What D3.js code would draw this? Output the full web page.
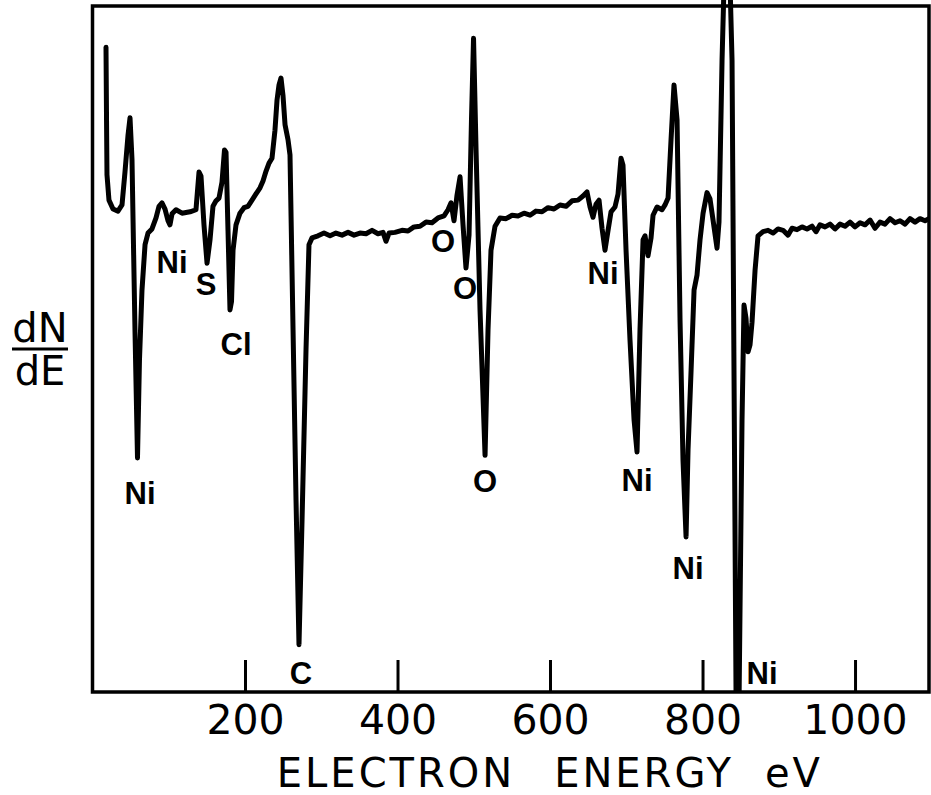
<!DOCTYPE html>
<html>
<head>
<meta charset="utf-8">
<script src="https://cdn.jsdelivr.net/npm/d3@7"></script>
<style>
  body { margin: 0; background: #fff; }
  svg text { fill: #000; }
</style>
</head>
<body>
<div id="chart"></div>
<script>
// Auger spectrum, dN/dE vs electron energy (eV); dN/dE in arbitrary units, 0 = bottom of frame, 100 = top
var energy = [17.7, 18.4, 19.0, 21.6, 26.9, 33.4, 38.7, 42.6, 46.6, 49.2, 51.8, 55.7, 59.0, 61.6, 64.9, 68.9,
  72.8, 78.0, 83.3, 87.2, 91.1, 95.1, 99.0, 101.6, 104.3, 109.5, 117.4, 127.9, 135.7, 139.7, 142.3, 146.2,
  150.2, 154.1, 158.0, 162.0, 165.9, 169.8, 173.1, 175.1, 177.7, 180.3, 182.3, 184.3, 188.2, 193.4, 198.7,
  203.9, 209.2, 214.4, 219.7, 223.6, 227.5, 231.5, 235.4, 239.3, 242.0, 244.6, 247.2, 249.8, 252.5, 256.4,
  259.0, 263.0, 266.9, 270.8, 274.8, 280.0, 283.9, 287.9, 295.7, 303.6, 311.5, 319.3, 327.2, 335.1, 343.0,
  350.8, 358.7, 366.6, 374.4, 381.0, 384.9, 388.9, 396.7, 405.9, 413.8, 421.6, 429.5, 437.4, 445.2, 453.1,
  461.0, 466.2, 470.2, 474.1, 478.0, 482.0, 485.9, 489.8, 493.8, 497.0, 499.7, 503.0, 508.2, 514.8, 518.7,
  522.6, 527.9, 534.4, 542.3, 550.2, 558.0, 565.9, 573.8, 581.6, 589.5, 597.4, 605.2, 613.1, 621.0, 628.9,
  636.7, 643.3, 648.5, 652.5, 656.4, 660.3, 664.3, 668.2, 672.1, 676.1, 680.0, 685.2, 689.2, 693.1, 695.7,
  699.7, 704.9, 710.2, 714.1, 718.0, 722.0, 724.6, 728.5, 732.5, 735.1, 740.3, 746.9, 750.8, 754.8, 758.7,
  762.6, 766.6, 770.5, 774.4, 778.4, 781.0, 785.0, 788.9, 792.8, 796.7, 800.7, 805.9, 809.8, 813.8, 819.0,
  821.6, 825.6, 828.2, 836.1, 838.7, 844.0, 847.9, 851.8, 854.4, 857.0, 859.7, 862.3, 864.9, 868.9, 872.8,
  879.3, 885.9, 892.5, 899.0, 905.6, 912.1, 917.4, 923.9, 930.5, 937.0, 943.6, 948.9, 954.1, 960.7, 967.2,
  973.8, 980.3, 986.9, 993.4, 1000.0, 1006.6, 1013.1, 1019.7, 1026.2, 1032.8, 1039.3, 1045.9, 1052.5,
  1059.0, 1065.6, 1072.1, 1078.7, 1085.2, 1091.8, 1097.0];

var dNdE = [94.0, 83.4, 75.4, 71.7, 70.4, 70.1, 71.0, 75.8, 81.2, 83.7, 77.6, 52.8, 34.1, 48.4, 58.6, 65.2,
  66.9, 67.5, 69.1, 70.8, 71.3, 70.4, 68.7, 68.1, 69.7, 70.3, 69.8, 70.0, 70.3, 75.8, 75.2, 68.1,
  62.5, 65.9, 70.8, 71.6, 72.0, 74.3, 79.0, 78.7, 67.3, 55.7, 56.9, 64.4, 68.1, 69.8, 70.6,
  70.8, 71.7, 72.6, 73.5, 74.5, 75.9, 77.1, 77.8, 81.9, 86.3, 88.5, 89.5, 87.0, 82.7, 80.5,
  78.3, 52.8, 28.0, 6.9, 25.1, 49.9, 65.2, 66.2, 66.5, 66.9, 66.5, 66.9, 66.6, 67.0, 66.6,
  66.9, 66.8, 67.3, 66.8, 67.0, 65.7, 66.9, 67.0, 67.3, 67.2, 67.8, 67.9, 68.5, 68.4, 69.1,
  69.4, 70.3, 71.3, 68.7, 72.4, 75.1, 68.1, 61.8, 66.6, 83.4, 95.3, 79.0, 55.7, 34.5, 52.8,
  64.4, 67.9, 69.1, 69.0, 69.5, 69.4, 69.8, 69.5, 70.1, 70.0, 70.6, 70.4, 71.0, 70.8, 71.6,
  71.7, 72.3, 72.9, 70.7, 69.2, 71.1, 71.7, 67.6, 64.4, 67.3, 70.0, 70.7, 72.6, 77.8, 76.8,
  64.4, 51.3, 39.7, 35.0, 52.8, 65.9, 66.5, 63.6, 66.2, 69.5, 70.7, 70.3, 71.0, 72.0, 80.5,
  88.5, 83.4, 54.2, 33.8, 22.6, 35.3, 46.9, 58.6, 60.8, 65.9, 69.8, 72.8, 71.9, 68.8, 64.7,
  68.5, 92.1, 103.1, 103.1, 92.1, -1.2, -1.2, 39.7, 56.4, 54.5, 49.6, 50.6, 53.9, 61.5, 66.5,
  67.1, 67.3, 66.9, 67.5, 67.3, 66.6, 67.6, 67.4, 67.8, 67.5, 67.9, 67.1, 68.1, 67.8, 68.2,
  67.5, 68.2, 67.9, 68.5, 67.8, 68.4, 68.1, 68.8, 67.6, 68.5, 68.2, 69.0, 68.4,
  68.7, 68.2, 69.0, 68.5, 69.0, 68.7, 69.0];

// peak identifications: text, energy under the label, level of the label baseline
var peakText = ["Ni", "Ni", "S", "Cl", "C", "O", "O", "O", "Ni", "Ni", "Ni", "Ni"];
var peakEnergy = [62.3, 104.3, 148.9, 188.2, 273.4, 459.7, 488.5, 514.8, 669.5, 714.1, 781.0, 878.0];
var peakLevel = [27.4, 61.1, 57.9, 49.1, 1.2, 64.1, 57.3, 29.2, 59.5, 29.3, 16.5, 1.2];

var tickValues = [200, 400, 600, 800, 1000];
var xDomain = [0, 1097];
var yDomain = [0, 100];

var width = 931, height = 795;

var svg = d3.select('#chart').append('svg')
    .attr('width', width)
    .attr('height', height);

var x = d3.scaleLinear().domain(xDomain).range([92.5, 929]);
var y = d3.scaleLinear().domain(yDomain).range([692, 6]);

// clip only at the bottom of the frame; the off-scale peak runs out at the top
svg.append('clipPath').attr('id', 'plot-clip')
  .append('rect')
    .attr('x', x(xDomain[0]))
    .attr('y', 0)
    .attr('width', x(xDomain[1]) - x(xDomain[0]))
    .attr('height', y(0));

// frame
svg.append('rect')
    .attr('x', x(xDomain[0]))
    .attr('y', y(yDomain[1]))
    .attr('width', x(xDomain[1]) - x(xDomain[0]))
    .attr('height', y(yDomain[0]) - y(yDomain[1]))
    .attr('fill', 'none')
    .attr('stroke', '#000')
    .attr('stroke-width', 3.5);

// bottom axis, ticks pointing into the plot
var xAxis = d3.axisBottom(x)
    .tickValues(tickValues)
    .tickFormat(d3.format('d'))
    .tickSizeInner(-32)
    .tickSizeOuter(0)
    .tickPadding(13);

var gx = svg.append('g')
    .attr('transform', 'translate(0,' + y(0) + ')')
    .call(xAxis);

gx.select('.domain').remove();
gx.selectAll('.tick line')
    .attr('stroke', '#000')
    .attr('stroke-width', 3);
gx.selectAll('.tick text')
    .attr('font-family', 'DejaVu Sans, sans-serif')
    .attr('font-size', 41)
    .attr('fill', '#000');

// spectrum
var points = energy.map(function (e, i) { return [e, dNdE[i]]; });

var line = d3.line()
    .x(function (d) { return x(d[0]); })
    .y(function (d) { return y(d[1]); });

svg.append('path')
    .datum(points)
    .attr('clip-path', 'url(#plot-clip)')
    .attr('d', line)
    .attr('fill', 'none')
    .attr('stroke', '#000')
    .attr('stroke-width', 5)
    .attr('stroke-linejoin', 'round')
    .attr('stroke-linecap', 'round');

// peak labels
svg.append('g').selectAll('text')
    .data(peakText)
  .enter().append('text')
    .attr('x', function (d, i) { return x(peakEnergy[i]); })
    .attr('y', function (d, i) { return y(peakLevel[i]); })
    .attr('text-anchor', 'middle')
    .attr('font-family', 'Liberation Sans, Arial, sans-serif')
    .attr('font-weight', 'bold')
    .attr('font-size', 31)
    .text(function (d) { return d; });

// y label dN/dE
var yl = svg.append('g')
    .attr('font-family', 'DejaVu Sans, sans-serif')
    .attr('font-size', 40)
    .attr('text-anchor', 'middle');
yl.append('text').attr('x', 40).attr('y', 342).text('dN');
yl.append('line')
    .attr('x1', 12).attr('x2', 68)
    .attr('y1', 349).attr('y2', 349)
    .attr('stroke', '#000')
    .attr('stroke-width', 3);
yl.append('text').attr('x', 40).attr('y', 385).text('dE');

// x title
var xt = svg.append('g')
    .attr('font-family', 'DejaVu Sans, sans-serif')
    .attr('font-size', 40)
    .attr('letter-spacing', 3)
    .attr('text-anchor', 'middle');
xt.append('text').attr('x', 396).attr('y', 787).text('ELECTRON');
xt.append('text').attr('x', 644).attr('y', 787).text('ENERGY');
xt.append('text').attr('x', 794).attr('y', 787).text('eV');
</script>
</body>
</html>
